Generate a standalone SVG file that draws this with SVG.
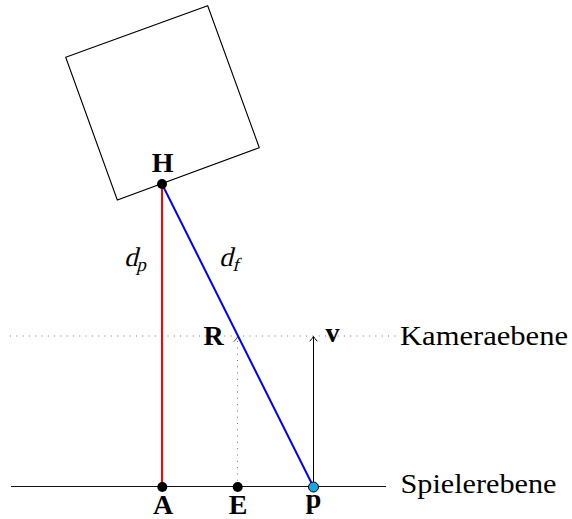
<svg xmlns="http://www.w3.org/2000/svg" width="572" height="519" viewBox="0 0 572 519">
<style>
text{font-family:"Liberation Serif","DejaVu Serif",serif;fill:#000}
.b{font-weight:bold;font-size:28px;text-anchor:middle}
.i{font-size:27px}
.sub{font-size:19px}
.lbl{font-size:28px}
.dot{fill:#000}
</style>
<defs>
<marker id="tip" markerWidth="10" markerHeight="10" refX="0" refY="0" viewBox="-6 -5 8 10" orient="auto" markerUnits="userSpaceOnUse">
<path d="M-4.5,-3.5 Q-1.5,-0.8 0,0 Q-1.5,0.8 -4.5,3.5" fill="none" stroke="#000" stroke-width="1" stroke-linecap="round"/>
</marker>
<marker id="tipg" markerWidth="10" markerHeight="10" refX="0" refY="0" viewBox="-6 -5 8 10" orient="auto" markerUnits="userSpaceOnUse">
<path d="M-4.5,-3.5 Q-1.5,-0.8 0,0 Q-1.5,0.8 -4.5,3.5" fill="none" stroke="#555" stroke-width="1" stroke-linecap="round"/>
</marker>
</defs>
<g id="camera">
<polygon points="65.7,57.3 207.7,5.7 259.3,147.7 117.3,200" fill="none" stroke="#000" stroke-width="1.1"/>
</g>
<g id="connectors">
<line id="kameraebene-line" x1="10" y1="336" x2="396" y2="336" stroke="#777" stroke-width="1" stroke-dasharray="1 5.3"/>
<line id="spielerebene-line" x1="11" y1="486.5" x2="386" y2="486.5" stroke="#111" stroke-width="1.2"/>
<line id="E-R" x1="237.5" y1="487" x2="237.5" y2="337" stroke="#777" stroke-width="1" stroke-dasharray="1 5.3" marker-end="url(#tipg)"/>
<line id="P-v" x1="313.5" y1="487" x2="313.5" y2="336.5" stroke="#000" stroke-width="1" marker-end="url(#tip)"/>
<line id="dp" x1="162" y1="184" x2="162" y2="487" stroke="#f00" stroke-width="2"/>
<line id="df" x1="162" y1="184" x2="313.5" y2="487" stroke="#00f" stroke-width="2"/>
</g>
<g id="H">
<circle class="dot" cx="162" cy="184" r="5"/>
<text class="b" x="162.6" y="172.3">H</text>
</g>
<g id="A">
<circle class="dot" cx="162.3" cy="487" r="5"/>
<text class="b" x="163" y="514">A</text>
</g>
<g id="E">
<circle class="dot" cx="237.7" cy="487" r="5"/>
<text class="b" x="238" y="514">E</text>
</g>
<g id="P">
<circle cx="313.5" cy="487" r="5" fill="#1aa7e0" stroke="#000" stroke-width="1"/>
<text class="b" x="313.5" y="508">p</text>
</g>
<g id="R">
<text class="b" x="213.5" y="345">R</text>
</g>
<g id="v">
<text class="b" x="332.5" y="342.3">v</text>
</g>
<g id="labels">
<text class="i" transform="translate(124,266) skewX(-14)">d<tspan class="sub" dy="5">p</tspan></text>
<text class="i" transform="translate(219,266) skewX(-14)">d<tspan class="sub" dy="5" dx="1">f</tspan></text>
<text class="lbl" x="400" y="345" textLength="168" lengthAdjust="spacingAndGlyphs">Kameraebene</text>
<text class="lbl" x="400.5" y="492.5" textLength="156" lengthAdjust="spacingAndGlyphs">Spielerebene</text>
</g>
</svg>
